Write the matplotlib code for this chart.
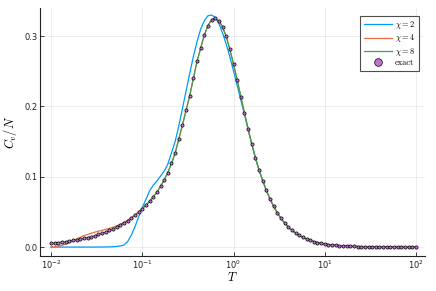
import numpy as np
import matplotlib
matplotlib.use("Agg")
import matplotlib.pyplot as plt

plt.rcParams['mathtext.fontset'] = 'cm'
plt.rcParams['font.family'] = ['DejaVu Sans']
plt.rcParams['axes.formatter.use_mathtext'] = True

# temperature grid (101 points, log-spaced 1e-2 .. 1e2)
T = np.logspace(-2, 2, 101)

cv_exact = [
    0.0054, 0.0059, 0.0065, 0.0071, 0.0078, 0.0086, 0.0094, 0.0103, 0.0113, 0.0124,
    0.0136, 0.0149, 0.0163, 0.0179, 0.0196, 0.0215, 0.0236, 0.0259, 0.0284, 0.0311,
    0.0341, 0.0374, 0.0410, 0.0450, 0.0493, 0.0541, 0.0593, 0.0651, 0.0715, 0.0780,
    0.0865, 0.0955, 0.1060, 0.1190, 0.1335, 0.1535, 0.1735, 0.1945, 0.2155, 0.2400,
    0.2640, 0.2830, 0.3015, 0.3150, 0.3235, 0.3255, 0.3215, 0.3130, 0.2995, 0.2810,
    0.2600, 0.2375, 0.2140, 0.1910, 0.1680, 0.1465, 0.1270, 0.1095, 0.0945, 0.0805,
    0.0685, 0.0578, 0.0486, 0.0408, 0.0343, 0.0287, 0.0240, 0.0200, 0.0167, 0.0139,
    0.0116, 0.0096, 0.0079, 0.0065, 0.0053, 0.0044, 0.00365, 0.00302, 0.00250, 0.00208,
    0.00172, 0.00143, 0.00118, 0.00098, 0.00081, 0.00067, 0.00056, 0.00046, 0.00038, 0.00032,
    0.00026, 0.00022, 0.00018, 0.00015, 0.00012, 0.00010, 0.000084, 0.000069, 0.000058, 0.000048,
    0.000040,
]

cv_chi2_low = [
    0.0, 0.0, 0.0, 0.0, 0.0, 0.0, 0.0, 0.0, 0.0, 0.0,
    0.0, 0.0, 0.0, 0.0001, 0.0001, 0.0002, 0.0003, 0.0005, 0.0009, 0.0016,
    0.0030, 0.0080, 0.0170, 0.0290, 0.0430, 0.0560, 0.0680, 0.0800, 0.0880, 0.0940,
    0.1010, 0.1080, 0.1180, 0.1340, 0.1500, 0.1720, 0.1970, 0.2220, 0.2470, 0.2710,
    0.2920, 0.3100, 0.3220, 0.3290, 0.3300, 0.3265, 0.3175, 0.3045, 0.2885, 0.2705,
    0.2505, 0.2300, 0.2090, 0.1885, 0.1670,
]

cv_chi4_low = [
    0.0002, 0.0006, 0.0013, 0.0025, 0.0042, 0.0064, 0.0089, 0.0115, 0.0140, 0.0163,
    0.0178, 0.0196, 0.0212, 0.0226, 0.0239, 0.0252, 0.0266, 0.0283, 0.0302, 0.0325,
    0.0352, 0.0384, 0.0420, 0.0460, 0.0505, 0.0552, 0.0600,
]

cv_chi2 = cv_chi2_low + cv_exact[len(cv_chi2_low):]
cv_chi4 = cv_chi4_low + cv_exact[len(cv_chi4_low):]
cv_chi8 = list(cv_exact)

labels = [r'$\chi = 2$', r'$\chi = 4$', r'$\chi = 8$', 'exact']
colors = ['#009af9', '#e26f46', '#3da44d', '#c271d2']

fig = plt.figure(figsize=(4.36, 2.91), dpi=100)
ax = fig.add_axes([0.092, 0.12, 0.883, 0.8525])

for y, lab, c in zip([cv_chi2, cv_chi4, cv_chi8], labels[:3], colors[:3]):
    ax.plot(T, y, color=c, lw=0.9, label=lab)
ax.plot(T, cv_exact, ls='none', marker='o', ms=2.3, mfc=colors[3], mec='black',
        mew=0.5, label=labels[3], zorder=5)

ax.set_xscale('log')
ax.set_xlim(10**-2.12, 10**2.1)
ax.set_ylim(-0.0128, 0.34)
ax.set_yticks([0.0, 0.1, 0.2, 0.3])
ax.set_yticklabels(['0.0', '0.1', '0.2', '0.3'])
ax.set_xticks([1e-2, 1e-1, 1e0, 1e1, 1e2])
ax.xaxis.set_minor_locator(matplotlib.ticker.NullLocator())

ax.grid(True, color='black', alpha=0.08, lw=0.6)
for s in ['top', 'right']:
    ax.spines[s].set_visible(False)
for s in ['left', 'bottom']:
    ax.spines[s].set_linewidth(0.8)
    ax.spines[s].set_color('#222222')
ax.tick_params(direction='in', length=3, width=0.6, labelsize=6, colors='#222222', pad=2)

ax.set_xlabel(r'$T$', fontsize=9, labelpad=0)
ax.set_ylabel(r'$C_v/N$', fontsize=9, labelpad=4)

leg = ax.legend(loc='upper right', prop={'family': 'cmr10', 'size': 6},
                frameon=True, fancybox=False, edgecolor='#222222',
                handlelength=3.4, borderpad=0.4, labelspacing=0.15,
                handletextpad=0.4, markerscale=2.4, bbox_to_anchor=(0.995, 0.985))
leg.get_frame().set_linewidth(0.8)

fig.savefig('out.png', dpi=100)
